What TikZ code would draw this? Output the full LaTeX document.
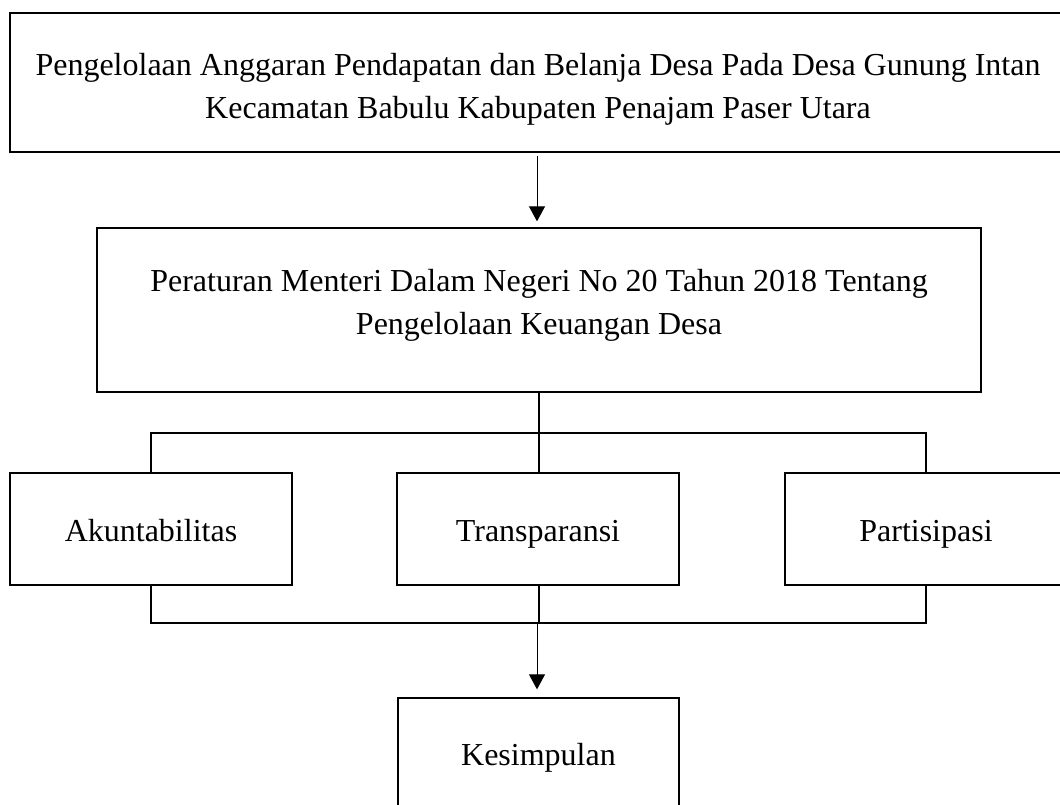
\documentclass[tikz,border=0pt]{standalone}
\usepackage{fontspec}
\setmainfont{Liberation Serif}
\usetikzlibrary{arrows.meta}
\tikzset{
  boxnode/.style={draw, line width=1.3pt, inner sep=0pt},
  txt/.style={anchor=base, inner sep=0pt, font=\fontsize{32}{43}\selectfont},
  link/.style={line width=1.3pt},
  arr/.style={line width=1pt, -{Triangle[length=15pt,width=16pt]}}
}
\begin{document}
\begin{tikzpicture}[x=1pt,y=-1pt]
\useasboundingbox (0,0) rectangle (1060,805);
\clip (0,0) rectangle (1060,805);
\node[boxnode, minimum width=1057pt, minimum height=139pt] (top) at (538.5,82.5) {};
\node[txt] (top1) at (538,76) {Pengelolaan Anggaran Pendapatan dan Belanja Desa Pada Desa Gunung Intan};
\node[txt] (top2) at (538,119) {Kecamatan Babulu Kabupaten Penajam Paser Utara};
\node[boxnode, minimum width=884pt, minimum height=164pt] (perm) at (539,310) {};
\node[txt] (perm1) at (539,291) {Peraturan Menteri Dalam Negeri No 20 Tahun 2018 Tentang};
\node[txt] (perm2) at (539,334) {Pengelolaan Keuangan Desa};
\node[boxnode, minimum width=282pt, minimum height=112pt] (akun) at (151,529) {};
\node[txt] (akunt) at (151,541) {Akuntabilitas};
\node[boxnode, minimum width=282pt, minimum height=112pt] (trans) at (538,529) {};
\node[txt] (transt) at (538,541) {Transparansi};
\node[boxnode, minimum width=282pt, minimum height=112pt] (part) at (926,529) {};
\node[txt] (partt) at (926,541) {Partisipasi};
\node[boxnode, minimum width=281pt, minimum height=117pt] (kes) at (538.5,756.5) {};
\node[txt] (kest) at (538.5,765) {Kesimpulan};
\coordinate (j1) at (539,433);
\coordinate (j2) at (539,623);
\draw[arr, shorten <=3pt, shorten >=6pt] (top.south -| 537,0) -- (perm.north -| 537,0);
\draw[link] (perm.south) -- (j1);
\draw[link] (akun.north) |- (j1) -| (part.north);
\draw[link] (j1) -- (trans.north -| j1);
\draw[link] (akun.south) |- (j2) -| (part.south);
\draw[link] (trans.south -| j2) -- (j2);
\draw[arr, shorten >=8pt] (j2 -| 537,0) -- (kes.north -| 537,0);
\end{tikzpicture}
\end{document}
